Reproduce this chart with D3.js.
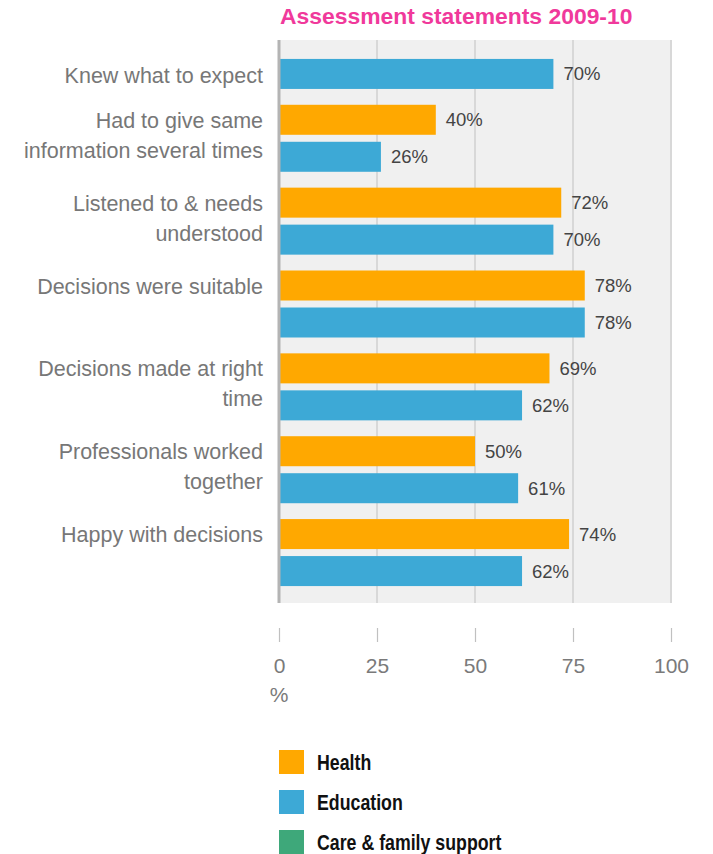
<!DOCTYPE html>
<html>
<head>
<meta charset="utf-8">
<script src="https://cdn.jsdelivr.net/npm/d3@7"></script>
<style>
  html, body { margin: 0; padding: 0; background: #fff; }
  svg { display: block; font-family: "Liberation Sans", Arial, Helvetica, sans-serif; }
</style>
</head>
<body>
<svg id="chart" width="713" height="854"></svg>
<script>
// ---- data ----
const title = "Assessment statements 2009-10";
const categories = [
  ["Knew what to expect"],
  ["Had to give same", "information several times"],
  ["Listened to & needs", "understood"],
  ["Decisions were suitable"],
  ["Decisions made at right", "time"],
  ["Professionals worked", "together"],
  ["Happy with decisions"]
];
const seriesNames = ["Health", "Education", "Care & family support"];
const seriesColors = ["#ffa800", "#3da9d6", "#3ea87a"];
const healthValues = [null, 40, 72, 78, 69, 50, 74];
const educationValues = [70, 26, 70, 78, 62, 61, 62];
const tickValues = [0, 25, 50, 75, 100];
const axisUnit = "%";

// ---- layout ----
const svg = d3.select("#chart");
const plot = { left: 279, right: 672, top: 40, bottom: 603 };
const x = d3.scaleLinear().domain([0, 100]).range([plot.left, 671]);
const catKeys = categories.map((c, i) => i);
const y = d3.scaleBand().domain(catKeys).range([14, 594]).padding(0);
const inner = d3.scaleBand().domain(["Health", "Education"]).range([-33.5, 33.5]).paddingInner(7 / 37);

// title
svg.append("text")
  .attr("x", 280).attr("y", 24)
  .attr("font-size", 22.9).attr("font-weight", "bold")
  .attr("fill", "#f0399b")
  .text(title);

// plot background
svg.append("rect")
  .attr("x", plot.left).attr("y", plot.top)
  .attr("width", plot.right - plot.left).attr("height", plot.bottom - plot.top)
  .attr("fill", "#f0f0f0");

// gridlines
svg.append("g").selectAll("line").data(tickValues.slice(1)).join("line")
  .attr("x1", d => x(d)).attr("x2", d => x(d))
  .attr("y1", plot.top).attr("y2", plot.bottom)
  .attr("stroke", "#c8c8c8").attr("stroke-width", 1.2);

// bars
const rows = [];
categories.forEach((c, i) => {
  if (healthValues[i] != null) rows.push({ cat: i, s: "Health", v: healthValues[i], color: seriesColors[0] });
  if (educationValues[i] != null) rows.push({ cat: i, s: "Education", v: educationValues[i], color: seriesColors[1] });
});
const center = i => y(i) + y.bandwidth() / 2;

svg.append("g").selectAll("rect").data(rows).join("rect")
  .attr("x", x(0)).attr("y", d => center(d.cat) + inner(d.s))
  .attr("width", d => x(d.v) - x(0)).attr("height", inner.bandwidth())
  .attr("fill", d => d.color);

svg.append("g").selectAll("text").data(rows).join("text")
  .attr("x", d => x(d.v) + 10)
  .attr("y", d => center(d.cat) + inner(d.s) + inner.bandwidth() / 2)
  .attr("dy", "0.35em")
  .attr("font-size", 18.5).attr("fill", "#444")
  .text(d => d.v + "%");

// zero axis line
svg.append("line")
  .attr("x1", x(0)).attr("x2", x(0)).attr("y1", plot.top).attr("y2", plot.bottom)
  .attr("stroke", "#b4b4b4").attr("stroke-width", 3);

// category labels
const lab = svg.append("g").attr("font-size", 21.5).attr("fill", "#777").attr("text-anchor", "end");
categories.forEach((lines, i) => {
  let firstY;
  if (healthValues[i] == null) {
    const eb = center(i) + inner("Education") + inner.bandwidth() / 2;
    firstY = eb - (lines.length - 1) * 15 + 1.5;
  } else {
    firstY = center(i) - 18;
  }
  const t = lab.append("text").attr("x", 263).attr("y", firstY);
  lines.forEach((ln, k) => {
    t.append("tspan").attr("x", 263).attr("y", firstY + k * 30).attr("dy", "0.35em").text(ln);
  });
});

// bottom axis
const axisG = svg.append("g").attr("transform", "translate(0,628)");
const axis = d3.axisBottom(x).tickValues(tickValues).tickSize(14).tickPadding(16);
axisG.call(axis);
axisG.select(".domain").remove();
axisG.selectAll(".tick line").attr("stroke", "#c0c0c0").attr("stroke-width", 1.2);
axisG.selectAll(".tick text").attr("font-size", 21).attr("fill", "#7a7a7a")
  .attr("font-family", "Liberation Sans, Arial, sans-serif");

svg.append("text")
  .attr("x", x(0)).attr("y", 702).attr("text-anchor", "middle")
  .attr("font-size", 21).attr("fill", "#7a7a7a")
  .text(axisUnit);

// legend
const leg = svg.append("g").attr("transform", "translate(279,750)");
const li = leg.selectAll("g").data(seriesNames).join("g")
  .attr("transform", (d, i) => `translate(0,${i * 40})`);
li.append("rect").attr("width", 25).attr("height", 24).attr("fill", (d, i) => seriesColors[i]);
li.append("text")
  .attr("transform", "translate(38,12) scale(0.826,1)")
  .attr("dy", "0.36em")
  .attr("font-family", "'Liberation Sans', Arial, sans-serif")
  .attr("font-weight", "bold").attr("font-size", 21.5).attr("fill", "#111")
  .text(d => d);
</script>
</body>
</html>
